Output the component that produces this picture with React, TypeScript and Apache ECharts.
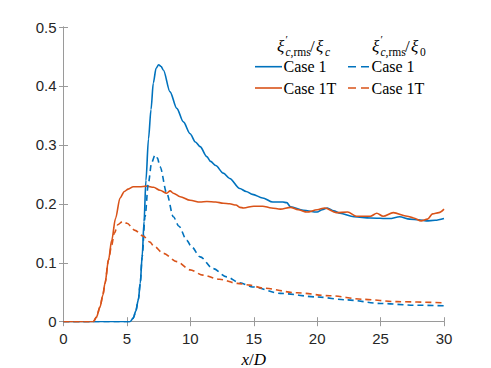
import React, { useEffect, useRef } from "react";
import * as echarts from "echarts";

const BLUE = "#0072BD";
const ORANGE = "#D95319";

// Case 1, xi'_{c,rms}/xi_c
const case1CX = [0, 5.0, 5.25, 5.5, 5.7, 5.9, 6.05, 6.2, 6.35, 6.5, 6.7, 6.9, 7.08, 7.3, 7.5, 7.7, 7.87, 8.4, 8.93, 9.45, 9.98, 10.4, 10.77, 11.3, 11.6, 12.0, 12.6, 13.1, 13.9, 14.4, 14.9, 15.7, 16.5, 17.3, 17.6, 17.9, 18.9, 20.0, 20.4, 20.8, 21.3, 21.8, 22.9, 24.2, 25.7, 26.5, 27.3, 28.0, 28.6, 29.3, 30];
const case1CY = [0, 0, 0, 0.006, 0.018, 0.037, 0.065, 0.11, 0.17, 0.24, 0.31, 0.36, 0.405, 0.43, 0.436, 0.433, 0.427, 0.39, 0.362, 0.339, 0.319, 0.305, 0.297, 0.28, 0.272, 0.265, 0.252, 0.243, 0.226, 0.221, 0.216, 0.21, 0.203, 0.203, 0.202, 0.195, 0.189, 0.186, 0.19, 0.193, 0.188, 0.184, 0.178, 0.176, 0.175, 0.178, 0.174, 0.173, 0.171, 0.172, 0.175];

// Case 1T, xi'_{c,rms}/xi_c
const case1TCX = [0, 2.35, 2.6, 2.88, 3.1, 3.27, 3.55, 3.8, 4.1, 4.46, 4.8, 5.1, 5.5, 6.0, 6.56, 7.1, 7.6, 8.14, 8.4, 8.66, 9.2, 9.98, 10.77, 11.3, 12.0, 12.6, 13.1, 13.6, 13.9, 14.2, 15.0, 15.7, 16.4, 17.1, 17.9, 18.5, 19.2, 20.0, 20.6, 21.5, 22.4, 23.1, 24.2, 24.7, 25.2, 26.0, 27.1, 27.6, 28.2, 28.7, 29.1, 29.6, 30];
const case1TCY = [0, 0, 0.008, 0.025, 0.045, 0.065, 0.105, 0.138, 0.175, 0.21, 0.221, 0.225, 0.229, 0.229, 0.23, 0.228, 0.223, 0.218, 0.222, 0.218, 0.212, 0.206, 0.203, 0.204, 0.203, 0.201, 0.2, 0.198, 0.194, 0.193, 0.196, 0.196, 0.193, 0.191, 0.194, 0.19, 0.186, 0.19, 0.193, 0.185, 0.186, 0.179, 0.179, 0.184, 0.179, 0.185, 0.179, 0.176, 0.171, 0.174, 0.183, 0.185, 0.191];

// Case 1, xi'_{c,rms}/xi_0
const case1ZX = [0, 5.0, 5.25, 5.5, 5.7, 5.9, 6.05, 6.2, 6.43, 6.69, 6.95, 7.22, 7.4, 7.61, 8.14, 8.66, 9.1, 9.72, 10.1, 10.77, 11.8, 12.87, 13.9, 14.9, 17.1, 20, 22.3, 25, 27.6, 30];
const case1ZY = [0, 0, 0, 0.006, 0.018, 0.037, 0.065, 0.11, 0.178, 0.235, 0.27, 0.283, 0.278, 0.263, 0.218, 0.178, 0.162, 0.138, 0.127, 0.11, 0.09, 0.076, 0.066, 0.059, 0.048, 0.042, 0.037, 0.031, 0.028, 0.027];

// Case 1T, xi'_{c,rms}/xi_0
const case1TZX = [0, 2.35, 2.6, 2.88, 3.1, 3.27, 3.55, 3.8, 4.0, 4.3, 4.65, 5.0, 5.64, 6.3, 6.82, 7.09, 7.87, 8.93, 9.98, 11.0, 12.3, 13.7, 14.7, 15.7, 18.4, 21, 23.6, 26.3, 30];
const case1TZY = [0, 0, 0.008, 0.025, 0.045, 0.065, 0.105, 0.13, 0.15, 0.165, 0.17, 0.167, 0.155, 0.145, 0.135, 0.129, 0.116, 0.102, 0.088, 0.079, 0.072, 0.065, 0.062, 0.057, 0.049, 0.044, 0.038, 0.034, 0.032];

const xTicks = [0, 5, 10, 15, 20, 25, 30];
const yTicks = [0, 0.1, 0.2, 0.3, 0.4, 0.5];
const legendLabels = ["Case 1", "Case 1T"];

const zip = (xs: number[], ys: number[]) => xs.map((x, i) => [x, ys[i]]);

const SERIF = "'Liberation Serif', 'DejaVu Serif', serif";
const SANS = "'Liberation Sans', Arial, Helvetica, sans-serif";
const AXIS_GRAY = "#9a9a9a";
const TEXT_DARK = "#262626";

function titleParts(x0: number, y0: number, last: string, lastItalic: boolean) {
  const t = (x: number, y: number, text: string, size: number, italic: boolean) => ({
    type: "text",
    x,
    y,
    style: {
      text,
      fontFamily: SERIF,
      fontSize: size,
      fontStyle: italic ? "italic" : "normal",
      fill: "#000",
      textAlign: "left",
      textVerticalAlign: "middle",
      verticalAlign: "middle",
    },
  });
  return [
    t(x0, y0, "ξ", 17, true),
    t(x0 + 8.5, y0 - 7, "′", 11, false),
    t(x0 + 8.5, y0 + 6, "c", 11.5, true),
    t(x0 + 13.5, y0 + 6, ",rms", 11.5, false),
    t(x0 + 33, y0, "/", 17, false),
    t(x0 + 39, y0, "ξ", 17, true),
    t(x0 + 48, y0 + 6, last, 11.5, lastItalic),
  ];
}

export default function App() {
  const ref = useRef<HTMLDivElement>(null);
  useEffect(() => {
    if (!ref.current) return;
    const chart = echarts.init(ref.current, undefined, { renderer: "svg" });
    const grid = { left: 63.5, right: 47, top: 27, bottom: 46.3, containLabel: false, outerBoundsMode: "none" };
    const commonX = {
      type: "value",
      min: xTicks[0],
      max: xTicks[xTicks.length - 1],
      interval: 5,
      splitLine: { show: false },
      axisLine: { show: true, lineStyle: { color: AXIS_GRAY, width: 1 } },
      axisTick: { show: true, inside: true, length: 4.5, lineStyle: { color: AXIS_GRAY } },
    };
    const commonY = {
      type: "value",
      min: yTicks[0],
      max: yTicks[yTicks.length - 1],
      interval: 0.1,
      splitLine: { show: false },
      axisLine: { show: true, lineStyle: { color: AXIS_GRAY, width: 1 } },
      axisTick: { show: true, inside: true, length: 4.5, lineStyle: { color: AXIS_GRAY } },
    };
    const lineSeries = (name: string, xs: number[], ys: number[], color: string, dashed: boolean) => ({
      name,
      type: "line",
      data: zip(xs, ys),
      xAxisIndex: 0,
      yAxisIndex: 0,
      showSymbol: false,
      symbol: "none",
      smooth: 0.3,
      smoothMonotone: "x",
      lineStyle: { color, width: 1.6, type: dashed ? [6, 4] : "solid" },
      z: 3,
    });

    const lx = 255;
    const rowY = [66.7, 88];
    const legendLine = (x1: number, x2: number, y: number, color: string, dashed: boolean) => ({
      type: "line",
      shape: { x1, y1: y, x2, y2: y },
      style: { stroke: color, lineWidth: 1.6, lineDash: dashed ? [8, 5] : null },
    });
    const legendText = (x: number, y: number, text: string) => ({
      type: "text",
      x,
      y,
      style: {
        text,
        fontFamily: SERIF,
        fontSize: 16,
        fill: "#000",
        textAlign: "left",
        textVerticalAlign: "middle",
        verticalAlign: "middle",
      },
    });

    chart.setOption({
      animation: false,
      backgroundColor: "#ffffff",
      grid,
      xAxis: [
        {
          ...commonX,
          position: "bottom",
          axisLabel: { fontFamily: SANS, fontSize: 15, color: TEXT_DARK, margin: 9 },
          name: "{i|x}/{i|D}",
          nameLocation: "middle",
          nameGap: 24,
          nameTextStyle: {
            fontFamily: SERIF,
            fontSize: 17,
            color: "#000",
            rich: { i: { fontFamily: SERIF, fontSize: 17, fontStyle: "italic", color: "#000" } },
          },
        },
        { ...commonX, position: "top", axisLabel: { show: false } },
      ],
      yAxis: [
        {
          ...commonY,
          position: "left",
          axisLabel: { fontFamily: SANS, fontSize: 15, color: TEXT_DARK, margin: 7 },
        },
        { ...commonY, position: "right", axisLabel: { show: false } },
      ],
      series: [
        lineSeries("Case 1 c", case1CX, case1CY, BLUE, false),
        lineSeries("Case 1T c", case1TCX, case1TCY, ORANGE, false),
        lineSeries("Case 1 0", case1ZX, case1ZY, BLUE, true),
        lineSeries("Case 1T 0", case1TZX, case1TZY, ORANGE, true),
      ],
      graphic: [
        ...titleParts(277, 46, "c", true),
        ...titleParts(372, 46, "0", false),
        legendLine(lx, lx + 27, rowY[0], BLUE, false),
        legendText(lx + 28.5, rowY[0], legendLabels[0]),
        legendLine(lx, lx + 27, rowY[1], ORANGE, false),
        legendText(lx + 28.5, rowY[1], legendLabels[1]),
        legendLine(lx + 93, lx + 114, rowY[0], BLUE, true),
        legendText(lx + 116.5, rowY[0], legendLabels[0]),
        legendLine(lx + 93, lx + 114, rowY[1], ORANGE, true),
        legendText(lx + 116.5, rowY[1], legendLabels[1]),
      ],
    });
    return () => chart.dispose();
  }, []);
  return (
    <div
      ref={ref}
      style={{ position: "absolute", left: 0, top: 0, width: 491, height: 368, background: "#fff" }}
    />
  );
}
